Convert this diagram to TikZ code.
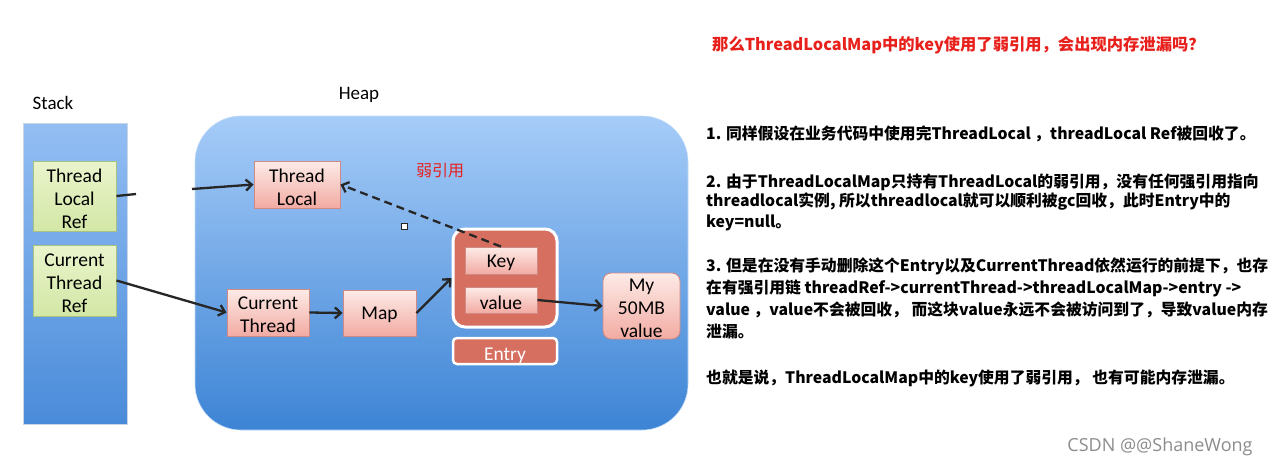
\documentclass[tikz,border=0pt]{standalone}
\usepackage{fontspec}
\setmainfont{Carlito}
\newfontfamily\cjk{Noto Sans CJK SC}
\newfontfamily\wm{Open Sans}
\usetikzlibrary{arrows.meta}
\definecolor{stacktop}{HTML}{93BEF3}
\definecolor{stackbot}{HTML}{4A8BD9}
\definecolor{heaptop}{HTML}{A6CCF8}
\definecolor{heapbot}{HTML}{3D84D5}
\definecolor{pinktop}{HTML}{FDEBE7}
\definecolor{pinkbot}{HTML}{F2ABA3}
\definecolor{pinkborder}{HTML}{D08A84}
\definecolor{greentop}{HTML}{EAF4CC}
\definecolor{greenbot}{HTML}{D3E7A6}
\definecolor{greenborder}{HTML}{A9C27F}
\definecolor{entryfill}{HTML}{D66F60}
\definecolor{linec}{HTML}{262626}
\definecolor{redtxt}{HTML}{E8201C}
\tikzset{
  boxtext/.style={align=center, inner sep=0pt, font=\fontsize{19.5}{23}\selectfont},
  pinkbox/.style={inner sep=0pt, draw=pinkborder, line width=0.9pt, top color=pinktop, bottom color=pinkbot},
  greenbox/.style={inner sep=0pt, draw=greenborder, line width=0.9pt, top color=greentop, bottom color=greenbot},
  txt/.style={label={[boxtext, yshift=-2.3pt]center:{#1}}},
  conn/.style={draw=linec, line width=2.3pt},
  arr/.style={conn, -{Straight Barb[length=6pt,width=11pt,line width=2.3pt]}},
  dasharr/.style={conn, dash pattern=on 8pt off 5pt, -{Straight Barb[length=6pt,width=11pt,line width=2.3pt]}},
  para/.style={anchor=base west, inner sep=0pt, font=\cjk\bfseries\fontsize{15.8}{18}\selectfont, text=black},
}
\begin{document}
\begin{tikzpicture}[x=1pt,y=-1pt]
\useasboundingbox[fill=white] (0,0) rectangle (1274,469);

% Stack
\node[anchor=center, font=\fontsize{19}{22}\selectfont] (stacklbl) at (53,103) {Stack};
\path[draw=stacktop!80!black!40, line width=0.6pt, top color=stacktop, bottom color=stackbot] (23,123) rectangle (127,424);
\node[greenbox, minimum width=83pt, minimum height=70pt, txt={Thread\\Local\\Ref}] (tlr) at (74.5,196) {};
\node[greenbox, minimum width=83pt, minimum height=71pt, txt={Current\\Thread\\Ref}] (ctr) at (74.5,280.5) {};

% Heap
\node[anchor=center, font=\fontsize{19}{22}\selectfont] (heaplbl) at (359,95) {Heap};
\path[top color=heaptop, bottom color=heapbot, draw=heaptop!70!white, line width=0.6pt, rounded corners=46pt] (195,116) rectangle (688,430);

\node[pinkbox, minimum width=86pt, minimum height=47pt, txt={Thread\\Local}] (tl) at (297,184.5) {};
\node[pinkbox, minimum width=82pt, minimum height=47pt, txt={Current\\Thread}] (ct) at (268,312.5) {};
\node[pinkbox, minimum width=73pt, minimum height=46pt, txt={Map}] (map) at (379.5,313) {};

\node[draw=white, line width=3pt, fill=entryfill, rounded corners=12pt, minimum width=104pt, minimum height=98pt, inner sep=0pt] (entry) at (505,278) {};
\node[pinkbox, minimum width=72pt, minimum height=27pt, txt={Key}] (key) at (501,260.5) {};
\node[pinkbox, minimum width=72pt, minimum height=26pt, txt={value}] (val) at (501,300) {};
\node[draw=white, line width=2.5pt, fill=entryfill, rounded corners=4pt, minimum width=104pt, minimum height=26pt, inner sep=0pt, label={[boxtext, text=white, yshift=-4.5pt]center:Entry}] (entrylbl) at (505,351) {};
\node[pinkbox, rounded corners=8pt, minimum width=77pt, minimum height=66pt, txt={My\\50MB\\value}] (big) at (641.5,306) {};

\node[font=\cjk\fontsize{16}{19}\selectfont, text=redtxt, inner sep=0pt] (weak) at (440,171) {弱引用};
\node[draw=linec, line width=0.8pt, fill=white, minimum size=6pt, inner sep=0pt] (sq) at (404,226) {};

% connectors
\coordinate (gapA) at (136,194);
\coordinate (gapB) at (192,189);
\draw[conn] (tlr.east) -- (gapA);
\draw[arr] (gapB) -- (tl.west);
\draw[arr] (ctr.east) -- (ct.west);
\draw[arr] (ct.east) -- (map.west);
\draw[arr] (map.east) -- (entry.west);
\draw[arr] (val.east) -- (big.west);
\draw[dasharr] (key.north) -- (tl.east);

% right text
\node[para, text=redtxt, font=\cjk\bfseries\fontsize{16.3}{18}\selectfont] (title) at (712,50.5) {那么ThreadLocalMap中的key使用了弱引用，会出现内存泄漏吗？};
\node[para] (p1) at (706,139.5) {1. 同样假设在业务代码中使用完ThreadLocal ，threadLocal Ref被回收了。};
\node[para] (p2a) at (706,187) {2. 由于ThreadLocalMap只持有ThreadLocal的弱引用，没有任何强引用指向};
\node[para] (p2b) at (706,206.5) {threadlocal实例, 所以threadlocal就可以顺利被gc回收，此时Entry中的};
\node[para] (p2c) at (706,227) {key=null。};
\node[para] (p3a) at (706,271) {3. 但是在没有手动删除这个Entry以及CurrentThread依然运行的前提下，也存};
\node[para] (p3b) at (706,293) {在有强引用链 threadRef->currentThread->threadLocalMap->entry ->};
\node[para] (p3c) at (706,315) {value ，value不会被回收， 而这块value永远不会被访问到了，导致value内存};
\node[para] (p3d) at (706,337) {泄漏。};
\node[para] (p4) at (706,383) {也就是说，ThreadLocalMap中的key使用了弱引用， 也有可能内存泄漏。};

\node[anchor=center, font=\wm\fontsize{18}{20}\selectfont, text=black!45, inner sep=0pt] (wmk) at (1160,447) {CSDN @@ShaneWong};
\end{tikzpicture}
\end{document}
